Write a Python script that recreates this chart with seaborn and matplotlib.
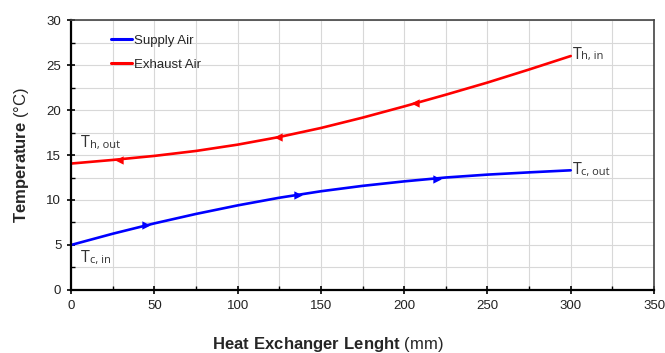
import matplotlib
matplotlib.use("Agg")
import matplotlib.pyplot as plt
import seaborn as sns
import pandas as pd
from matplotlib.ticker import MultipleLocator

# ---- data ----
length_mm = [0, 25, 50, 75, 100, 125, 150, 175, 200, 225, 250, 275, 300]
supply_air = [5.0, 6.25, 7.4, 8.45, 9.4, 10.25, 10.97, 11.57, 12.07, 12.5, 12.82, 13.07, 13.3]
exhaust_air = [14.05, 14.45, 14.9, 15.45, 16.15, 17.0, 18.0, 19.15, 20.4, 21.7, 23.05, 24.5, 26.0]

supply_arrow_x = [45, 136.5, 219.5]
supply_arrow_y = [7.2, 10.6, 12.35]
exhaust_arrow_x = [29, 124.5, 206.5]
exhaust_arrow_y = [14.5, 17.0, 20.75]

series_names = ["Supply Air", "Exhaust Air"]
colors = ["#0000ff", "#ff0000"]

end_labels = [("T", "h, out", 6, 16.3), ("T", "c, in", 6, 3.5),
              ("T", "h, in", 301, 26.1), ("T", "c, out", 301, 13.3)]

df = pd.DataFrame({
    "x": length_mm * 2,
    "y": supply_air + exhaust_air,
    "series": [series_names[0]] * len(length_mm) + [series_names[1]] * len(length_mm),
})

sns.set_style("white")
plt.rcParams["font.family"] = ["Liberation Sans", "DejaVu Sans"]
plt.rcParams["mathtext.fontset"] = "custom"
plt.rcParams["mathtext.rm"] = "Liberation Sans"
plt.rcParams["mathtext.bf"] = "Liberation Sans:bold"

fig = plt.figure(figsize=(6.65, 3.53), dpi=100)
ax = fig.add_axes([0.1068, 0.1785, 0.8767, 0.7648])

sns.lineplot(data=df, x="x", y="y", hue="series", palette=colors,
             linewidth=1.9, ax=ax, legend=True)
sns.scatterplot(x=supply_arrow_x, y=supply_arrow_y, marker=">", color=colors[0],
                s=36, linewidth=0, ax=ax, legend=False, zorder=5)
sns.scatterplot(x=exhaust_arrow_x, y=exhaust_arrow_y, marker="<", color=colors[1],
                s=36, linewidth=0, ax=ax, legend=False, zorder=5)

ax.set_xlim(0, 350)
ax.set_ylim(0, 30)
ax.xaxis.set_major_locator(MultipleLocator(50))
ax.xaxis.set_minor_locator(MultipleLocator(25))
ax.yaxis.set_major_locator(MultipleLocator(5))
ax.yaxis.set_minor_locator(MultipleLocator(2.5))
ax.grid(True, which="both", color="#d8d8d8", linewidth=0.8)
ax.set_axisbelow(True)

ax.tick_params(which="major", direction="inout", length=6, width=1.2, color="black",
               labelsize=9.5, labelcolor="#222222", pad=4)
ax.tick_params(which="minor", direction="in", length=3, width=1.0, color="black")
ax.tick_params(axis="x", which="both", bottom=True)
ax.tick_params(axis="y", which="both", left=True)

for side in ["left", "bottom"]:
    ax.spines[side].set_color("black")
    ax.spines[side].set_linewidth(1.6)
for side in ["top", "right"]:
    ax.spines[side].set_color("#444444")
    ax.spines[side].set_linewidth(1.2)

ax.set_xlabel(r"$\mathbf{Heat\ Exchanger\ Lenght}$ (mm)", fontsize=12)
ax.xaxis.set_label_coords(0.44, -0.165)
ax.set_ylabel(r"$\mathbf{Temperature}$ (°C)", fontsize=12, labelpad=11)

leg = ax.legend(loc="upper left", bbox_to_anchor=(0.068, 0.945), frameon=False,
                fontsize=9.5, handlelength=1.6, handletextpad=0.15, labelspacing=0.85,
                borderpad=0, borderaxespad=0)
for h in leg.get_lines():
    h.set_linewidth(2.2)

for main, sub, x, y in end_labels:
    t = ax.text(x, y, main, fontsize=11.5, family=["Open Sans", "DejaVu Sans"],
                color="#333333", va="center", ha="left")
    ax.annotate(sub, xy=(1.0, 0.05), xycoords=t, fontsize=8,
                family=["Open Sans", "DejaVu Sans"], color="#333333",
                va="bottom", ha="left")

fig.savefig("out.png", dpi=100)
